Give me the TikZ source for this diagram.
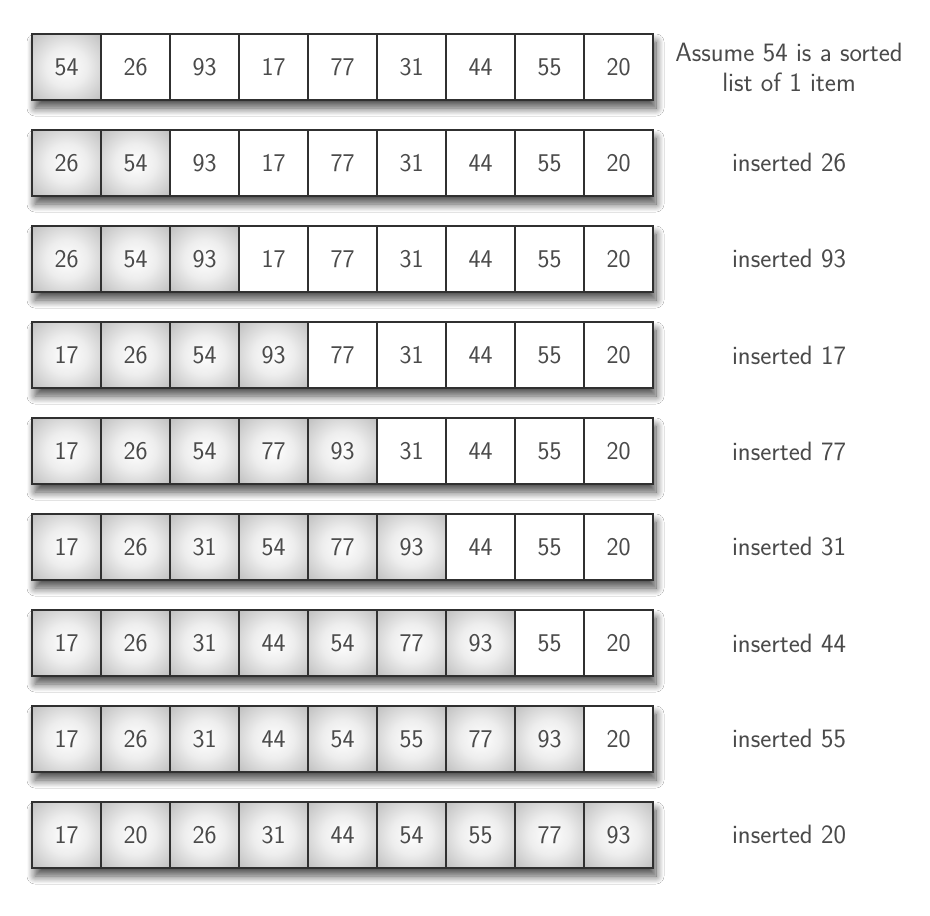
\documentclass[tikz,border=0pt]{standalone}
\usetikzlibrary{shadows.blur}
\pgfdeclareradialshading{cellshade}{\pgfpoint{0bp}{0bp}}{color(0bp)=(white); color(15bp)=(black!7); color(50bp)=(black!38); color(72bp)=(black!52)}
\definecolor{txt}{HTML}{4A4A4A}
\definecolor{edge}{HTML}{303030}
\tikzset{
  cellbox/.style={draw=edge, line width=1.8pt, minimum width=69pt, minimum height=66pt, inner sep=0pt, text=txt, font=\sffamily\fontsize{25.5}{30}\selectfont, fill=white},
  sortedbox/.style={cellbox, shading=cellshade},
  rowshadow/.style={fill=white, blur shadow={shadow xshift=3pt, shadow yshift=-8pt, shadow blur radius=8pt, shadow opacity=70, shadow blur steps=14}},
  labeltext/.style={text=txt, font=\sffamily\fontsize{26.5}{30}\selectfont, align=center}
}
\begin{document}
\begin{tikzpicture}[x=1pt,y=-1pt]
\useasboundingbox[fill=white] (0,0) rectangle (930,916);
\foreach \r/\vals/\n/\lab in {
  1/{54,26,93,17,77,31,44,55,20}/1/{Assume 54 is a sorted\\list of 1 item},
  2/{26,54,93,17,77,31,44,55,20}/2/{inserted 26},
  3/{26,54,93,17,77,31,44,55,20}/3/{inserted 93},
  4/{17,26,54,93,77,31,44,55,20}/4/{inserted 17},
  5/{17,26,54,77,93,31,44,55,20}/5/{inserted 77},
  6/{17,26,31,54,77,93,44,55,20}/6/{inserted 31},
  7/{17,26,31,44,54,77,93,55,20}/7/{inserted 44},
  8/{17,26,31,44,54,55,77,93,20}/8/{inserted 55},
  9/{17,20,26,31,44,54,55,77,93}/9/{inserted 20}} {
  \pgfmathsetmacro{\yc}{67+96*(\r-1)}
  \path[rowshadow] (32,\yc-33) rectangle (653,\yc+33);
  \foreach \v [count=\i] in \vals {
    \pgfmathsetmacro{\xc}{-2.5+69*\i}
    \ifnum\i>\n
      \node[cellbox] (c-\r-\i) at (\xc,\yc) {\v};
    \else
      \node[sortedbox] (c-\r-\i) at (\xc,\yc) {\v};
    \fi
  }
  \node[labeltext] (lab-\r) at (789,\yc) {\lab};
}
\end{tikzpicture}
\end{document}
